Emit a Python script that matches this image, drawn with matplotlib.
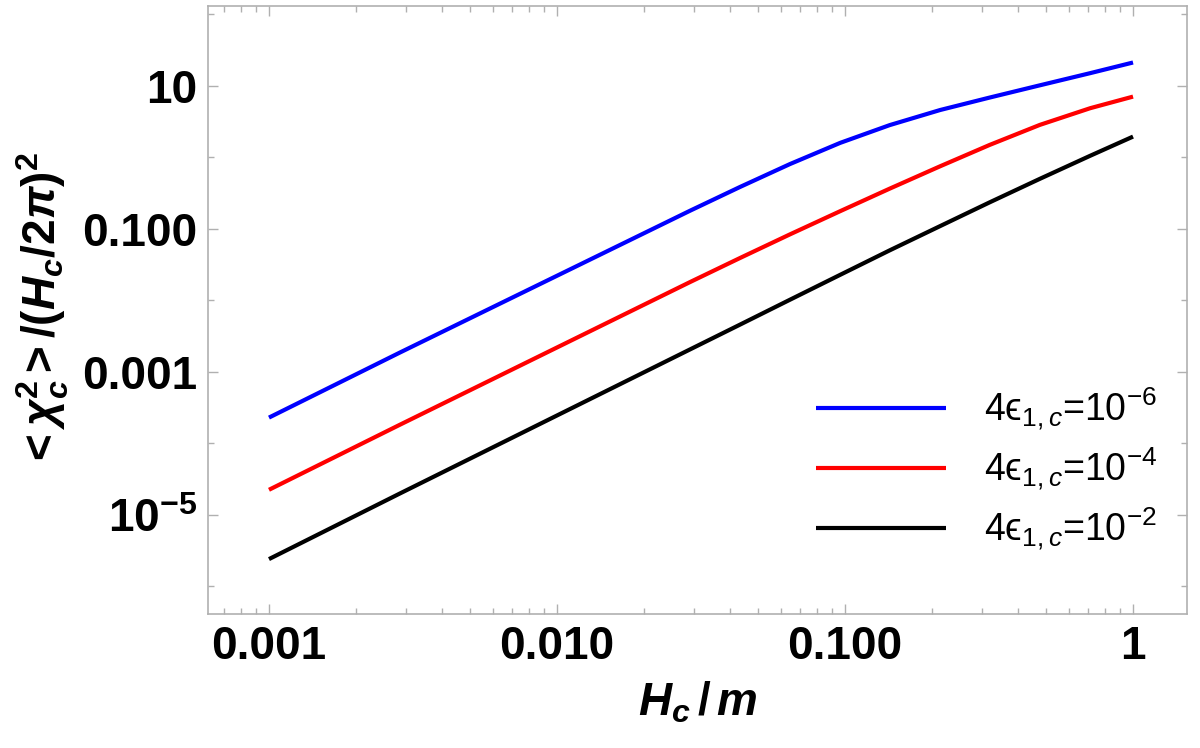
import matplotlib
matplotlib.use("Agg")
import matplotlib.pyplot as plt
from matplotlib.ticker import FixedLocator, FixedFormatter, LogLocator, NullFormatter

plt.rcParams['font.family'] = ['Liberation Sans', 'DejaVu Sans']
plt.rcParams['mathtext.fontset'] = 'custom'
plt.rcParams['mathtext.rm'] = 'Liberation Sans'
plt.rcParams['mathtext.it'] = 'Liberation Sans:italic'
plt.rcParams['mathtext.bf'] = 'Liberation Sans:bold'
plt.rcParams['mathtext.bfit'] = 'Liberation Sans:bold:italic'

# values (H_c/m on x)
hm = [0.001, 0.00285, 0.029, 0.0432, 0.0644, 0.0962, 0.143, 0.214, 0.318, 0.475, 0.71, 1.0]
chi_e6 = [2.30e-4, 1.87e-3, 0.180, 0.386, 0.807, 1.596, 2.83, 4.60, 6.87, 10.19, 15.07, 21.23]
chi_e4 = [2.25e-5, 1.83e-4, 0.0181, 0.0392, 0.0839, 0.177, 0.366, 0.752, 1.496, 2.851, 4.875, 7.08]
chi_e2 = [2.415e-6, 2.00e-5, 2.07e-3, 4.59e-3, 0.01023, 0.0228, 0.0502, 0.1096, 0.2355, 0.502, 1.054, 1.954]

labels = [r'4ϵ$_{1,c}$=10$^{-6}$', r'4ϵ$_{1,c}$=10$^{-4}$', r'4ϵ$_{1,c}$=10$^{-2}$']
colors = ['#0000ff', '#ff0000', '#000000']

xticks = [0.001, 0.01, 0.1, 1]
xticklabels = ['0.001', '0.010', '0.100', '1']
yticks = [1e-5, 1e-3, 0.1, 10]
yticklabels = [r'$\mathbf{10^{-5}}$', '0.001', '0.100', '10']
yminor = [1e-6, 1e-4, 1e-2, 1, 100]

fig = plt.figure(figsize=(12, 7.48), dpi=100)
ax = fig.add_axes([0.1733, 0.1791, 0.8159, 0.8129])

for ys, c, lab in zip([chi_e6, chi_e4, chi_e2], colors, labels):
	ax.plot(hm, ys, color=c, lw=3, label=lab, solid_capstyle='butt', solid_joinstyle='round')

ax.set_xscale('log')
ax.set_yscale('log')
ax.set_xlim(6.14e-4, 1.54)
ax.set_ylim(4.12e-7, 131)

ax.xaxis.set_major_locator(FixedLocator(xticks))
ax.xaxis.set_major_formatter(FixedFormatter(xticklabels))
ax.xaxis.set_minor_locator(LogLocator(base=10, subs=range(2, 10), numticks=20))
ax.xaxis.set_minor_formatter(NullFormatter())
ax.yaxis.set_major_locator(FixedLocator(yticks))
ax.yaxis.set_major_formatter(FixedFormatter(yticklabels))
ax.yaxis.set_minor_locator(FixedLocator(yminor))
ax.yaxis.set_minor_formatter(NullFormatter())

gray = '#b0b0b0'
for s in ax.spines.values():
	s.set_color(gray)
	s.set_linewidth(1.2)
ax.tick_params(which='both', direction='in', top=True, right=True, color=gray, width=1)
ax.tick_params(which='major', length=7, labelsize=33, pad=8)
ax.tick_params(which='minor', length=4)
for t in ax.get_xticklabels() + ax.get_yticklabels():
	t.set_fontweight('bold')

ax.set_xlabel(r'$\mathbfit{H_c}\,\mathbf{/}\,\mathbfit{m}$', fontsize=33, labelpad=8)
ax.set_ylabel(r'$\mathbf{<}\mathbfit{\chi}_{\mathbfit{c}}^{\mathbf{2}}\mathbf{>/(}\mathbfit{H}_{\mathbfit{c}}\mathbf{/2}\mathbfit{\pi}\mathbf{)}^{\mathbf{2}}$',
	fontsize=33, labelpad=8)

ax.legend(loc='lower right', bbox_to_anchor=(1.004, 0.045), frameon=False, fontsize=27,
	handlelength=3.47, handletextpad=1.0, labelspacing=0.34)

fig.savefig('out.png', dpi=100)
